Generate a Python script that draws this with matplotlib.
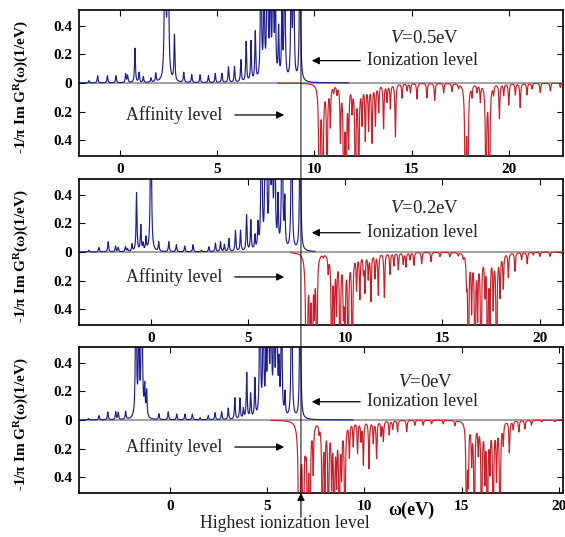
import numpy as np
import matplotlib
matplotlib.use("Agg")
import matplotlib.pyplot as plt
from matplotlib.patches import ConnectionPatch

plt.rcParams['font.family'] = ['Liberation Serif', 'DejaVu Serif']
plt.rcParams['mathtext.fontset'] = 'custom'
plt.rcParams['mathtext.rm'] = 'Liberation Serif'
plt.rcParams['mathtext.it'] = 'Liberation Serif:italic'
plt.rcParams['mathtext.bf'] = 'Liberation Serif:bold'

# ---------------------------------------------------------------- data
bias_labels = ["0.5", "0.2", "0"]
ionization_levels = [9.31, 7.72, 6.74]      # eV, first ionization level per bias
occupied_plot_end = [11.75, 8.44, 9.41]     # blue curve drawn up to here
empty_plot_start = [8.10, 7.20, 5.20]       # red curve drawn from here
line_width_gamma = 0.027                    # Lorentzian half width (eV)

# V = 0.5 eV : occupied (blue) peaks
occ_pos_v05 = [-1.60, -1.15, -0.65, -0.21, 0.29, 0.39, 0.77, 0.98, 1.20, 1.60,
               1.84, 2.32, 2.47, 2.80, 3.28, 3.69, 4.12, 4.55, 4.90, 5.24,
               5.58, 5.89, 6.22, 6.49, 6.74, 6.96, 7.25, 7.41, 7.58, 7.73,
               7.87, 7.99, 8.16, 8.33, 8.47, 8.81, 8.93, 9.26]
occ_amp_v05 = [0.016, 0.05, 0.05, 0.05, 0.06, 0.05, 0.24, 0.07, 0.04, 0.03,
               0.06, 2.0, 2.0, 0.32, 0.07, 0.055, 0.055, 0.05, 0.065, 0.065,
               0.11, 0.11, 0.155, 0.28, 0.28, 0.34, 1.2, 0.8, 1.5, 0.9,
               1.2, 0.7, 0.35, 0.5, 1.2, 1.0, 1.2, 1.5]
# V = 0.5 eV : unoccupied (red) peaks
emp_pos_v05 = [10.26, 10.43, 10.65, 10.82, 10.99, 11.16, 11.34, 11.51, 11.63, 11.76,
               11.94, 12.11, 12.28, 12.45, 12.62, 12.79, 12.96, 13.14, 13.31, 13.56,
               13.74, 13.91, 14.17, 14.51, 14.77, 14.94, 15.28, 15.79, 16.19, 16.65,
               17.08, 17.42, 17.77, 17.89, 18.11, 18.37, 18.54, 18.83, 19.00, 19.22,
               19.52, 19.74, 20.00, 20.34, 20.59, 20.94, 21.19, 21.62, 22.14, 22.65]
emp_amp_v05 = [1.5, 1.2, 0.8, 0.28, 0.05, 0.06, 0.38, 1.0, 0.9, 0.4,
               0.17, 1.0, 0.8, 0.26, 0.38, 0.31, 0.40, 0.28, 0.19, 0.31,
               0.12, 0.17, 0.37, 0.10, 0.05, 0.065, 0.11, 0.10, 0.12, 0.065,
               0.055, 0.03, 1.2, 1.0, 0.08, 0.055, 0.12, 1.0, 1.2, 0.065,
               0.24, 0.08, 0.15, 0.08, 0.17, 0.08, 0.04, 0.065, 0.055, 0.03]

# V = 0.2 eV
occ_pos_v02 = [-3.20, -2.68, -2.20, -1.82, -1.68, -1.31, -1.20, -0.97, -0.74, -0.52,
               -0.40, -0.25, 0.00, 0.40, 0.92, 1.31, 1.74, 2.17, 2.60, 2.98,
               3.32, 3.58, 3.78, 4.01, 4.35, 4.61, 4.92, 5.14, 5.35, 5.51,
               5.69, 5.86, 5.94, 6.12, 6.24, 6.37, 6.54, 6.75, 6.89, 7.24, 7.68]
occ_amp_v02 = [0.012, 0.03, 0.07, 0.04, 0.03, 0.035, 0.02, 0.05, 0.41, 0.18,
               0.05, 0.09, 1.5, 0.065, 0.07, 0.05, 0.04, 0.05, 0.01, 0.035,
               0.06, 0.07, 0.05, 0.09, 0.145, 0.145, 0.25, 0.21, 0.10, 0.17,
               1.5, 0.39, 1.2, 1.5, 1.0, 1.2, 0.34, 1.5, 0.33, 1.5, 1.5]
emp_pos_v02 = [8.01, 8.18, 8.30, 8.41, 8.53, 8.87, 9.12, 9.30, 9.43, 9.55,
               9.73, 9.90, 9.98, 10.15, 10.36, 10.58, 10.75, 10.93, 11.01, 11.18,
               11.32, 11.53, 11.70, 12.01, 12.30, 12.50, 12.73, 12.98, 13.12, 13.33,
               13.53, 13.93, 14.41, 14.87, 15.38, 15.81, 16.07, 16.24, 16.33, 16.50,
               16.67, 16.81, 16.98, 17.18, 17.32, 17.44, 17.61, 17.78, 17.96, 18.13,
               18.39, 18.73, 19.07, 19.36, 19.67, 20.01, 20.53, 21.13]
emp_amp_v02 = [2.5, 0.8, 1.0, 0.35, 1.0, 0.02, 0.12, 1.0, 0.5, 0.38,
               1.0, 0.35, 0.8, 1.0, 1.0, 0.24, 0.31, 0.12, 0.26, 0.17,
               0.33, 0.17, 0.29, 0.31, 0.15, 0.09, 0.12, 0.08, 0.10, 0.05,
               0.09, 0.08, 0.065, 0.03, 0.03, 0.02, 0.03, 0.18, 1.0, 0.38,
               1.0, 0.42, 1.0, 0.26, 1.0, 0.45, 0.36, 1.0, 0.29, 0.24,
               0.17, 0.13, 0.05, 0.08, 0.02, 0.03, 0.03, 0.01]

# V = 0 eV
occ_pos_v00 = [-4.20, -3.65, -3.20, -2.79, -2.66, -2.28, -1.75, -1.60, -1.45, -1.30,
               -1.20, -0.57, -0.09, 0.35, 0.77, 1.15, 1.55, 1.97, 2.32, 2.66,
               3.00, 3.34, 3.60, 3.78, 3.95, 4.15, 4.37, 4.63, 4.80, 4.94,
               5.06, 5.20, 5.35, 5.49, 5.61, 5.74, 5.92, 6.26, 6.70]
occ_amp_v00 = [0.01, 0.03, 0.055, 0.055, 0.05, 0.055, 1.2, 0.8, 1.5, 0.2,
               0.18, 0.04, 0.055, 0.04, 0.04, 0.04, 0.015, 0.03, 0.05, 0.055,
               0.08, 0.15, 0.145, 0.07, 0.32, 0.17, 0.27, 1.2, 1.0, 0.41,
               1.5, 1.2, 1.0, 1.5, 0.32, 1.0, 0.16, 1.5, 1.5]
emp_pos_v00 = [6.66, 6.86, 6.98, 7.08, 7.20, 7.37, 7.49, 7.67, 7.84, 7.97,
               8.15, 8.32, 8.45, 8.57, 8.71, 8.83, 9.00, 9.23, 9.43, 9.65,
               9.83, 9.95, 10.24, 10.46, 10.63, 10.86, 10.98, 11.28, 11.46, 11.71,
               12.18, 12.60, 13.03, 13.46, 14.06, 14.66, 15.26, 15.35, 15.52, 15.66,
               15.86, 16.03, 16.20, 16.33, 16.46, 16.63, 16.80, 16.98, 17.15, 17.46,
               17.66, 17.95, 18.26, 18.60, 19.12, 19.81]
emp_amp_v00 = [3.0, 1.5, 0.1, 1.0, 1.0, 0.34, 0.01, 0.06, 1.0, 0.43,
               1.0, 0.41, 1.0, 0.38, 1.0, 0.34, 1.0, 0.24, 0.17, 0.22,
               0.13, 0.30, 0.33, 0.15, 0.26, 0.10, 0.14, 0.10, 0.06, 0.08,
               0.08, 0.035, 0.035, 0.025, 0.025, 0.035, 1.0, 0.38, 0.27, 1.0,
               0.2, 1.0, 0.38, 1.0, 0.31, 1.0, 0.38, 1.0, 0.15, 0.22,
               0.06, 0.08, 0.06, 0.035, 0.012, 0.012]

occupied_peaks = [(occ_pos_v05, occ_amp_v05), (occ_pos_v02, occ_amp_v02), (occ_pos_v00, occ_amp_v00)]
empty_peaks = [(emp_pos_v05, emp_amp_v05), (emp_pos_v02, emp_amp_v02), (emp_pos_v00, emp_amp_v00)]

# vertical placement of labels inside each panel (axes fraction)
label_y_bias = [0.808, 0.795, 0.755]
label_y_ion = [0.653, 0.632, 0.625]
label_y_aff = [0.281, 0.329, 0.315]


def spectral_function(w, pos, amp, gamma=line_width_gamma):
    pos = np.asarray(pos)[:, None]
    amp = np.asarray(amp)[:, None]
    return np.sum(amp * gamma**2 / ((w[None, :] - pos)**2 + gamma**2), axis=0)


# ---------------------------------------------------------------- figure
BLUE = '#1f1f8f'
RED = '#c8202a'
GREY = '#9a9a9a'
TXT = '#222222'

fig = plt.figure(figsize=(5.65, 5.37), dpi=100)
left, width, height = 0.1398, 0.8566, 0.2719
bottoms = [0.7095, 0.3948, 0.0819]
span_left, span_right = 11.42, 13.48      # eV shown left/right of the ionization level

axes = []
for i in range(3):
    ax = fig.add_axes([left, bottoms[i], width, height])
    axes.append(ax)
    ion = ionization_levels[i]
    xmin, xmax = ion - span_left, ion + span_right
    w = np.linspace(xmin, xmax, 14000)

    occ = spectral_function(w, *occupied_peaks[i])
    emp = spectral_function(w, *empty_peaks[i])

    ax.axhline(0, color=GREY, lw=1.3, zorder=1)
    m_occ = w <= occupied_plot_end[i]
    ax.plot(w[m_occ], occ[m_occ], color=BLUE, lw=0.85, zorder=2)
    m_emp = w >= empty_plot_start[i]
    ax.plot(w[m_emp], -emp[m_emp], color=RED, lw=0.85, zorder=3)

    ax.set_xlim(xmin, xmax)
    ax.set_ylim(-0.51, 0.51)
    ax.set_yticks([-0.4, -0.2, 0, 0.2, 0.4])
    ax.set_yticklabels(['0.4', '0.2', '0', '0.2', '0.4'])
    xt = [t for t in range(0, 25, 5) if xmin <= t <= xmax]
    ax.set_xticks(xt)
    ax.set_xticklabels([str(t) for t in xt])
    ax.tick_params(direction='in', top=True, right=True, length=4, width=0.8,
                   labelsize=11, pad=5)
    for lab in ax.get_xticklabels() + ax.get_yticklabels():
        lab.set_fontweight('bold')
    for sp in ax.spines.values():
        sp.set_linewidth(1.2)

    ax.set_ylabel(r"-1/π Im G$^{\mathbf{R}}$(ω)(1/eV)", fontsize=11, fontweight='bold')
    ax.yaxis.set_label_coords(-0.10, 0.47)

    # annotations
    ax.text(0.715, label_y_bias[i], r"$V$=" + bias_labels[i] + "eV", transform=ax.transAxes,
            ha='center', va='center', fontsize=13.5, color=TXT)
    ax.text(0.595, label_y_ion[i], "Ionization level", transform=ax.transAxes,
            ha='left', va='center', fontsize=12.8, color=TXT)
    ax.annotate("", xy=(0.481, label_y_ion[i]), xycoords='axes fraction',
                xytext=(0.581, label_y_ion[i]), textcoords='axes fraction',
                arrowprops=dict(arrowstyle='-|>', color='black', lw=0.9,
                                mutation_scale=11, shrinkA=0, shrinkB=0))
    ax.text(0.097, label_y_aff[i], "Affinity level", transform=ax.transAxes,
            ha='left', va='center', fontsize=12.8, color=TXT)
    ax.annotate("", xy=(0.424, label_y_aff[i]), xycoords='axes fraction',
                xytext=(0.322, label_y_aff[i]), textcoords='axes fraction',
                arrowprops=dict(arrowstyle='-|>', color='black', lw=0.9,
                                mutation_scale=11, shrinkA=0, shrinkB=0))

ax1, ax2, ax3 = axes
# vertical line through all panels at the ionization level
con = ConnectionPatch(xyA=(ionization_levels[0], 0.51), coordsA='data', axesA=ax1,
                      xyB=(ionization_levels[2], -0.51), coordsB='data', axesB=ax3,
                      color='black', lw=0.7, zorder=5)
fig.add_artist(con)

# arrow marking the highest ionization level
ax3.annotate("", xy=(ionization_levels[2], 0.0), xycoords=('data', 'axes fraction'),
             xytext=(ionization_levels[2], -0.165), textcoords=('data', 'axes fraction'),
             arrowprops=dict(arrowstyle='-|>', color='black', lw=0.8,
                             mutation_scale=11, shrinkA=0, shrinkB=0),
             annotation_clip=False)
fig.text(285 / 565, 0.026, "Highest ionization level", ha='center', va='center',
         fontsize=12.8, color=TXT)

ax3.set_xlabel("ω(eV)", fontsize=13, fontweight='bold')
ax3.xaxis.set_label_coords(0.686, -0.06)

fig.savefig("out.png", dpi=100)
